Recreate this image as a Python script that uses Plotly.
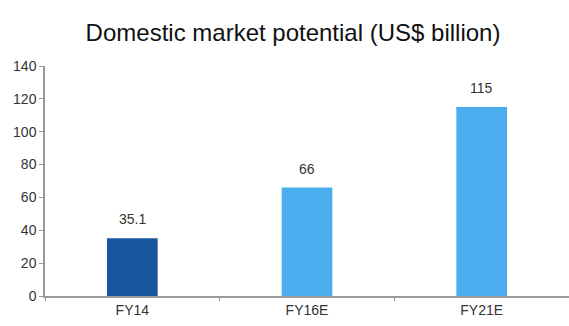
import plotly.graph_objects as go

categories = ["FY14", "FY16E", "FY21E"]
values = [35.1, 66, 115]
labels = ["35.1", "66", "115"]
colors = ["#1857a0", "#4aadee", "#4aadee"]

fig = go.Figure(go.Bar(
    x=categories, y=values, width=0.29,
    marker=dict(color=colors, line=dict(width=0)),
))

for c, v, t in zip(categories, values, labels):
    fig.add_annotation(x=c, y=v, text=t, showarrow=False, yanchor="bottom", yshift=9,
                       font=dict(family="Liberation Sans, Arial", size=14, color="#333333"))

fig.update_layout(
    width=569, height=326,
    margin=dict(l=45, r=0, t=66, b=30),
    paper_bgcolor="white", plot_bgcolor="white",
    title=dict(text="Domestic market potential (US$ billion)", x=0.515, xanchor="center",
               y=0.9, yanchor="middle",
               font=dict(family="Liberation Sans, Arial", size=24, color="#111111")),
    showlegend=False,
)
fig.update_xaxes(
    showline=True, linecolor="#999999", linewidth=1.5,
    ticks="outside", tickson="boundaries", ticklen=3, tickcolor="#999999",
    tickfont=dict(family="Liberation Sans, Arial", size=14, color="#333333"),
    showgrid=False,
)
fig.update_yaxes(
    range=[0, 140], dtick=20,
    showline=True, linecolor="#999999", linewidth=1.5,
    ticks="outside", ticklen=4, tickcolor="#999999",
    tickfont=dict(family="Liberation Sans, Arial", size=14, color="#333333"),
    showgrid=False, zeroline=False,
)

fig.write_html("out.html")
